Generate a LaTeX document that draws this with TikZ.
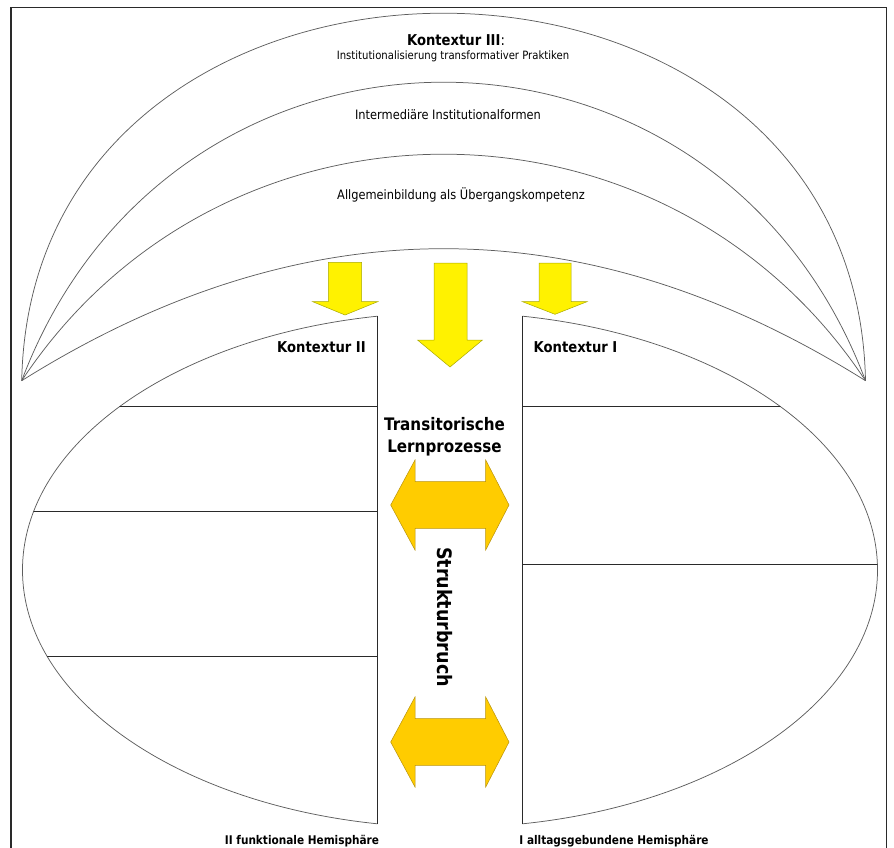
\documentclass[tikz,border=0pt]{standalone}
\usepackage{fontspec}
\setmainfont{DejaVu Sans}[FakeStretch=0.88]

\definecolor{archgray}{HTML}{5E5E5E}
\definecolor{rulegray}{HTML}{2A2A2A}
\definecolor{yellowline}{HTML}{A8A800}
\definecolor{orangefill}{HTML}{FFCC00}
\definecolor{orangeline}{HTML}{B8920A}

\tikzset{
    frame/.style={draw=rulegray, line width=1.1pt},
    arch/.style={draw=archgray, line width=0.75pt},
    rule/.style={draw=rulegray, line width=1pt},
    yarrow/.style={fill=yellow, draw=yellowline, line width=0.5pt},
    oarrow/.style={fill=orangefill, draw=orangeline, line width=0.5pt},
    kontext/.style={font=\bfseries\fontsize{15}{18}\selectfont},
    smalltext/.style={font=\fontsize{11.5}{13}\selectfont},
    layer/.style={font=\fontsize{13}{15}\selectfont},
    trans/.style={font=\bfseries\fontsize{17.3}{20}\selectfont},
    bruch/.style={font=\bfseries\fontsize{20}{24}\selectfont},
    hemi/.style={font=\bfseries\fontsize{12}{14}\selectfont}
}

\begin{document}
\begin{tikzpicture}[x=1bp, y=-1bp]
    \useasboundingbox (0,0) rectangle (894,848);
    % frame
    \draw[frame] (11,848) -- (11,7.3) -- (886.7,7.3) -- (886.7,848);
    % arches of Kontextur III
    \coordinate (bl) at (21.7,380.7);
    \coordinate (br) at (865.5,380.7);
    \draw[arch] (bl) .. controls (31.7,-109.3) and (855.5,-109.3) .. (br);
    \draw[arch] (bl) .. controls (171.7,-17.3) and (715.5,-17.3) .. (br);
    \draw[arch] (bl) .. controls (221.7,78.7) and (665.5,78.7) .. (br);
    \draw[arch] (bl) .. controls (302.7,204.7) and (584.5,204.7) .. (br);
    % hemispheres
    \begin{scope}
        \clip (0,0) rectangle (377.7,848);
        \draw[arch] (450,570) ellipse [x radius=427.5, y radius=257.5];
    \end{scope}
    \begin{scope}
        \clip (522.3,0) rectangle (894,848);
        \draw[arch] (450,570) ellipse [x radius=427.5, y radius=257.5];
    \end{scope}
    \begin{scope}
        \clip (450,570) ellipse [x radius=427.5, y radius=257.5];
        \draw[rule] (0,406.7) -- (377.7,406.7);
        \draw[rule] (0,511.7) -- (377.7,511.7);
        \draw[rule] (0,656.7) -- (377.7,656.7);
        \draw[rule] (522.3,406.7) -- (894,406.7);
        \draw[rule] (522.3,564.3) -- (894,564.3);
    \end{scope}
    \draw[rule] (377.7,316.2) -- (377.7,823.8);
    \draw[rule] (522.3,316.2) -- (522.3,823.8);
    % yellow arrows
    \filldraw[yarrow] (328.3,262.3) -- (361.7,262.3) -- (361.7,301.7) -- (377.7,301.7) -- (345,315) -- (312.7,301.7) -- (328.3,301.7) -- cycle;
    \filldraw[yarrow] (434,263) -- (467,263) -- (467,340) -- (482.5,340) -- (450,367) -- (417.5,340) -- (434,340) -- cycle;
    \filldraw[yarrow] (539,263) -- (571,263) -- (571,301.7) -- (587,301.7) -- (555,314.3) -- (522.5,301.7) -- (539,301.7) -- cycle;
    % orange double arrows
    \filldraw[oarrow] (390.7,505) -- (415,460) -- (415,481.7) -- (485.7,481.7) -- (485.7,460) -- (509,505) -- (485.7,550) -- (485.7,528.3) -- (415,528.3) -- (415,550) -- cycle;
    \filldraw[oarrow] (390.7,742) -- (415,697) -- (415,718.7) -- (485.7,718.7) -- (485.7,697) -- (509,742) -- (485.7,787) -- (485.7,765.3) -- (415,765.3) -- (415,787) -- cycle;
    % labels
    \node[kontext, anchor=base] (k3) at (456,45) {Kontextur III{\mdseries:}};
    \node[smalltext, anchor=base] (k3sub) at (453,59.5) {Institutionalisierung transformativer Praktiken};
    \node[layer, anchor=base] (inter) at (448,119) {Intermediäre Institutionalformen};
    \node[layer, anchor=base] (allg) at (461,199.5) {Allgemeinbildung als Übergangskompetenz};
    \node[kontext, anchor=base] (k2) at (321.5,352.7) {Kontextur II};
    \node[kontext, anchor=base] (k1) at (575.5,352.7) {Kontextur I};
    \node[trans, anchor=base] (trans) at (444.5,430) {Transitorische};
    \node[trans, anchor=base] (lern) at (444.5,452) {Lernprozesse};
    \node[bruch, rotate=-90] (bruch) at (445,617) {Strukturbruch};
    \node[hemi, anchor=base] (hemi2) at (302,844) {II funktionale Hemisphäre};
    \node[hemi, anchor=base] (hemi1) at (614,844) {I alltagsgebundene Hemisphäre};
\end{tikzpicture}
\end{document}
